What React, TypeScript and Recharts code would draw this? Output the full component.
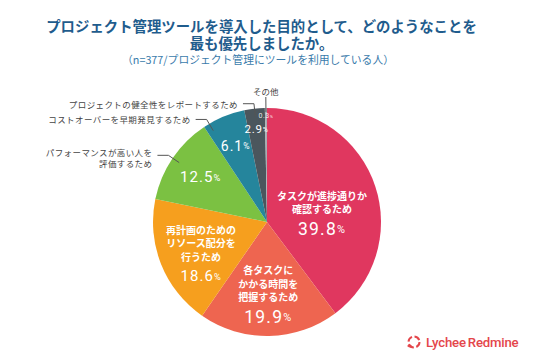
import { PieChart, Pie, Cell } from "recharts";

const categories = [
  "タスクが進捗通りか確認するため",
  "各タスクにかかる時間を把握するため",
  "再計画のためのリソース配分を行うため",
  "パフォーマンスが高い人を評価するため",
  "コストオーバーを早期発見するため",
  "プロジェクトの健全性をレポートするため",
  "その他",
];
const shares = [39.8, 19.9, 18.6, 12.5, 6.1, 2.9, 0.3];
const innerLines = [
  ["タスクが進捗通りか", "確認するため"],
  ["各タスクに", "かかる時間を", "把握するため"],
  ["再計画のための", "リソース配分を", "行うため"],
  [],
  [],
  [],
  [],
];
const outerLines = [
  [],
  [],
  [],
  ["パフォーマンスが高い人を", "評価するため"],
  ["コストオーバーを早期発見するため"],
  ["プロジェクトの健全性をレポートするため"],
  ["その他"],
];
const colors = ["#e0375f", "#ee6550", "#f69f1e", "#7bc142", "#25859c", "#4b565d", "#a8adb2"];

const titleLines = ["プロジェクト管理ツールを導入した目的として、どのようなことを", "最も優先しましたか。"];
const subtitle = "（n=377/プロジェクト管理にツールを利用している人）";

// label placement per slice
const labelRadius = [58, 71, 71, 80, 82, 94, 106];
const labelShiftY = [8, 0, 4, 0, 0, 0, 0];
const pctSize = [17.5, 17.5, 15, 15, 14, 11.5, 7];
const lineAngleShift = [0, 0, 0, 0, 8, 0, 0];

const data = categories.map((name, i) => ({ name, value: shares[i] }));

const RAD = Math.PI / 180;
const JP = "'Noto Sans CJK JP', 'Noto Sans', sans-serif";
const NUM = "Roboto, 'Noto Sans', sans-serif";

const polar = (cx: number, cy: number, r: number, a: number) => ({
  x: cx + r * Math.cos(-a * RAD),
  y: cy + r * Math.sin(-a * RAD),
});

const renderLabel = (props: any) => {
  const { cx, cy, midAngle, outerRadius, index } = props;
  const p = polar(cx, cy, labelRadius[index], midAngle);
  const lines = innerLines[index];
  const lh = 13.5;
  const gap = 20.5;
  const h = lines.length ? (lines.length - 1) * lh + gap : 0;
  const top = p.y - h / 2 + labelShiftY[index];
  const pctY = top + h;
  const size = pctSize[index];

  const outer = outerLines[index];
  let leader = null;
  if (outer.length && index === outerLines.length - 1) {
    const a = polar(cx, cy, outerRadius - 4, midAngle);
    const b = polar(cx, cy, outerRadius + 11, midAngle);
    leader = (
      <g>
        <line x1={a.x} y1={a.y} x2={b.x} y2={b.y} stroke="#555" strokeWidth={1} />
        <text x={b.x} y={b.y - 6} textAnchor="middle" dominantBaseline="central" fontFamily={JP} fontSize={8.5} fill="#444">
          {outer[0]}
        </text>
      </g>
    );
  } else if (outer.length) {
    const ang = midAngle + lineAngleShift[index];
    const a = polar(cx, cy, outerRadius - 8, ang);
    const b = polar(cx, cy, outerRadius + 5, ang);
    const ex = b.x - 11;
    leader = (
      <g>
        <polyline points={`${a.x},${a.y} ${b.x},${b.y} ${ex},${b.y}`} fill="none" stroke="#555" strokeWidth={1} />
        <text y={b.y - 3 + (outer.length > 1 ? 0 : 3)} textAnchor="end" dominantBaseline="central" fontFamily={JP} fontSize={8.5} letterSpacing={0.4} fill="#444">
          {outer.map((t: string, k: number) => (
            <tspan key={k} x={ex - 5} dy={k === 0 ? 0 : 10.5}>
              {t}
            </tspan>
          ))}
        </text>
      </g>
    );
  }

  return (
    <g>
      {lines.length > 0 && (
        <text y={top} textAnchor="middle" dominantBaseline="central" fontFamily={JP} fontWeight={700} fontSize={10} fill="#fff">
          {lines.map((t: string, k: number) => (
            <tspan key={k} x={p.x} dy={k === 0 ? 0 : lh}>
              {t}
            </tspan>
          ))}
        </text>
      )}
      <text x={p.x} y={pctY} textAnchor="middle" dominantBaseline="central" fontFamily={NUM} fontWeight={400} fontSize={size} letterSpacing={size * 0.07} fill="#fff" fillOpacity={index === 6 ? 0.85 : 1}>
        {shares[index].toFixed(1)}
        <tspan fontSize={size * 0.62}>%</tspan>
      </text>
      {leader}
    </g>
  );
};

const App = () => {
  return (
    <div style={{ position: "absolute", left: 0, top: 0, width: 536, height: 357, background: "#fff" }}>
      <svg width={536} height={357} style={{ position: "absolute", left: 0, top: 0 }}>
        <text y={25} textAnchor="middle" dominantBaseline="central" fontFamily={JP} fontWeight={700} fontSize={14.4} fill="#1f5c8d">
          {titleLines.map((t, k) => (
            <tspan key={k} x={261.5} dy={k === 0 ? 0 : 17}>
              {t}
            </tspan>
          ))}
        </text>
        <text x={258} y={58.5} textAnchor="middle" dominantBaseline="central" fontFamily={JP} fontSize={10.8} fill="#3a7bab">
          {subtitle}
        </text>
        <g transform="translate(414,342)">
          <circle r={5.5} fill="none" stroke="#e4464b" strokeWidth={2} strokeDasharray="6 2.6" />
          <path d="M-7,4 Q-4,1 -1,5 Q-4,7 -7,4 Z" fill="#e4464b" />
        </g>
        <text x={426} y={342} dominantBaseline="central" fontFamily={NUM} fontWeight={500} fontSize={13.2} letterSpacing={-0.2} fill="#e4464b">
          Lychee<tspan dx={2}>Redmine</tspan>
        </text>
      </svg>
      <div style={{ position: "absolute", left: 0, top: 0 }}>
        <PieChart width={536} height={357} margin={{ top: 0, right: 0, bottom: 0, left: 0 }}>
          <Pie
            data={data}
            dataKey="value"
            nameKey="name"
            cx={267}
            cy={222}
            outerRadius={114}
            startAngle={90}
            endAngle={-270}
            stroke="none"
            label={renderLabel}
            labelLine={false}
            isAnimationActive={false}
          >
            {data.map((d, i) => (
              <Cell key={d.name} fill={colors[i]} />
            ))}
          </Pie>
        </PieChart>
      </div>
    </div>
  );
};

export default App;
